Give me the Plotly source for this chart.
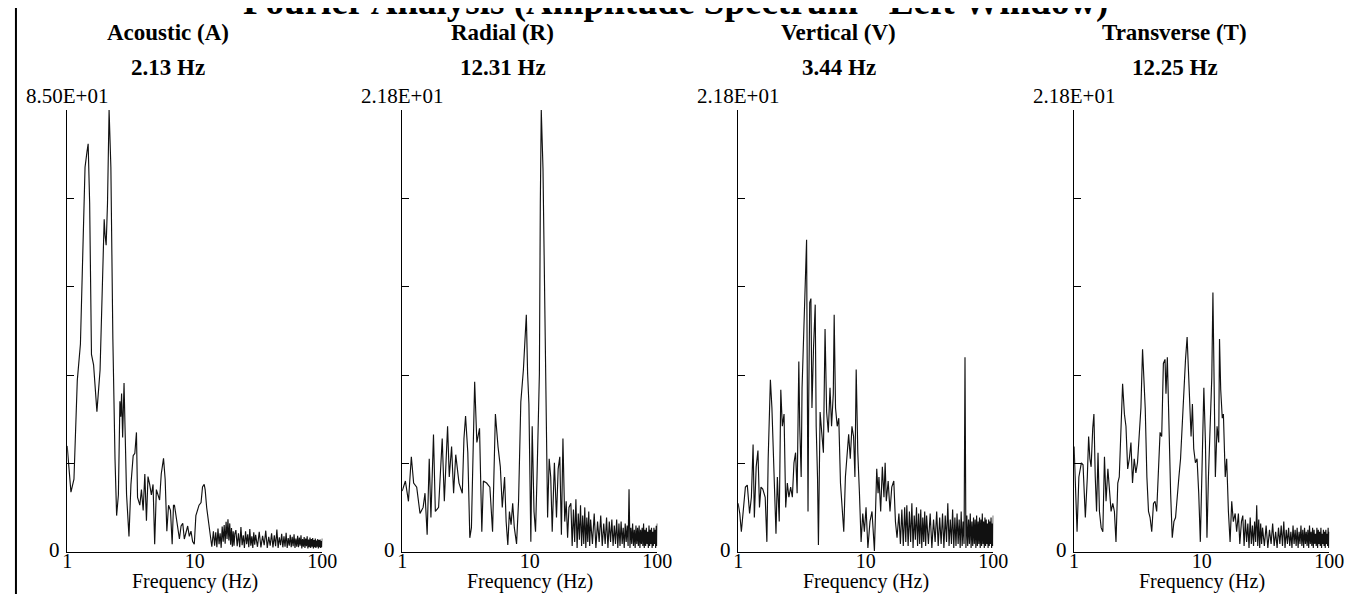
import plotly.graph_objects as go

# ---------------- data ----------------
main_title = "Fourier Analysis (Amplitude Spectrum - Left Window)"
panel_titles = ["Acoustic (A)", "Radial (R)", "Vertical (V)", "Transverse (T)"]
peak_labels = ["2.13 Hz", "12.31 Hz", "3.44 Hz", "12.25 Hz"]
y_max = [85.0, 21.8, 21.8, 21.8]
y_max_labels = ["8.50E+01", "2.18E+01", "2.18E+01", "2.18E+01"]
x_tickvals = [1, 10, 100]
x_ticktext = ["1", "10", "100"]
x_title = "Frequency (Hz)"

# shared high-frequency bins (Hz)
f_hi = [21, 21.5, 22, 22.5, 23, 23.5, 24, 24.5, 25, 25.5, 26, 26.5, 27, 27.5, 28, 28.5, 29, 29.5, 30,
        31, 32, 33, 34, 35, 36, 37, 38, 39, 40,
        41, 42, 43, 44, 45, 46, 47, 48, 49, 50,
        51, 52, 53, 54, 55, 56, 57, 58, 59, 60,
        61, 62, 63, 64, 65, 66, 67, 68, 69, 70,
        71, 72, 73, 74, 75, 76, 77, 78, 79, 80,
        81, 82, 83, 84, 85, 86, 87, 88, 89, 90,
        91, 92, 93, 94, 95, 96, 97, 98, 99, 100]

# Acoustic
a_f_lo = [1.00, 1.07, 1.13, 1.20, 1.27, 1.35, 1.38, 1.43, 1.46, 1.50, 1.55, 1.61, 1.71, 1.81, 1.89, 1.95,
          1.98, 2.02, 2.07, 2.13, 2.20, 2.28, 2.37, 2.44, 2.52, 2.59, 2.63, 2.67, 2.72, 2.79, 2.84, 2.92,
          3.05, 3.16, 3.29, 3.39, 3.49, 3.56, 3.71, 3.82, 3.94, 4.06, 4.18, 4.30, 4.43, 4.57, 4.71, 4.85,
          5.00, 5.30, 5.46, 5.69, 5.86, 6.04, 6.23, 6.45, 6.65, 6.81, 6.93, 7.14, 7.36, 7.58, 7.81, 8.05,
          8.28, 8.54, 8.80, 9.06, 9.34, 9.62, 9.91, 10.2, 10.5, 10.8, 11.2, 11.5, 11.85, 12.06, 12.4, 12.8,
          13.1, 13.6, 14.0, 14.3, 14.6, 14.9, 15.2, 15.5, 15.8, 16.1, 16.4, 16.7, 17.0, 17.3, 17.6, 17.9,
          18.2, 18.5, 18.8, 19.1, 19.4, 19.7, 20.0, 20.3, 20.6]
a_amp_lo = [20.4, 11.5, 14.0, 33.0, 40.0, 67.0, 74.0, 77.0, 78.5, 67.0, 38.0, 36.0, 27.0, 35.0, 52.0, 64.0,
            61.0, 59.0, 67.0, 85.0, 74.0, 41.0, 18.0, 7.0, 11.0, 29.0, 26.0, 30.5, 22.0, 32.5, 24.0, 11.0,
            3.0, 13.0, 18.5, 19.0, 23.0, 10.5, 9.0, 12.0, 8.0, 15.0, 6.0, 14.5, 13.0, 11.0, 13.0, 1.5,
            12.0, 10.0, 15.0, 18.0, 14.0, 4.0, 9.0, 8.0, 1.5, 9.0, 9.0, 7.0, 5.0, 2.5, 5.0, 5.5,
            2.5, 4.0, 5.0, 3.0, 4.0, 2.0, 1.5, 7.0, 8.0, 9.0, 9.5, 12.5, 13.0, 12.0, 8.5, 5.5,
            3.5, 1.0, 4.0, 1.2, 3.8, 0.9, 4.5, 1.5, 3.6, 0.8, 4.9, 2.0, 5.2, 1.6, 5.8, 2.5,
            6.3, 2.2, 5.5, 1.4, 4.6, 1.0, 4.0, 1.2, 3.5]
a_amp_hi = [4.2, 1.1, 3.6, 0.9, 4.8, 1.3, 3.2, 0.8, 4.0, 1.5, 3.4, 0.9, 4.4, 1.2, 3.0, 0.8, 3.8, 1.4, 3.3,
            1.0, 3.9, 0.9, 3.1, 1.3, 4.1, 0.8, 2.9, 1.2, 3.6,
            0.9, 3.2, 1.1, 4.3, 0.8, 2.8, 1.3, 3.5, 0.9, 3.0,
            1.0, 3.7, 0.8, 2.7, 1.2, 3.3, 0.9, 2.9, 1.1, 3.4,
            0.8, 2.6, 1.0, 3.1, 0.9, 2.8, 1.2, 3.2, 0.7, 2.5,
            1.0, 2.9, 0.8, 2.6, 1.1, 3.0, 0.7, 2.4, 0.9, 2.8,
            0.8, 2.5, 1.0, 2.7, 0.7, 2.3, 0.9, 2.6, 0.8, 2.2,
            1.0, 2.5, 0.7, 2.3, 0.9, 2.4, 0.8, 2.1, 0.9, 2.6]

# Radial
r_f_lo = [1.00, 1.06, 1.12, 1.18, 1.23, 1.30, 1.38, 1.46, 1.51, 1.57, 1.63, 1.68, 1.76, 1.82, 1.93, 2.06,
          2.14, 2.27, 2.34, 2.44, 2.53, 2.63, 2.79, 2.96, 3.05, 3.14, 3.27, 3.39, 3.49, 3.59, 3.70, 3.85,
          4.04, 4.21, 4.33, 4.59, 4.87, 5.11, 5.38, 5.64, 5.88, 6.09, 6.35, 6.53, 6.73, 6.93, 7.14, 7.35,
          7.57, 7.88, 8.17, 8.51, 8.92, 9.18, 9.40, 9.62, 9.85, 10.2, 10.45, 10.8, 11.1, 11.4, 11.9, 12.1,
          12.31, 12.7, 13.0, 13.4, 13.8, 14.2, 14.6, 15.0, 15.6, 16.2, 16.7, 17.2, 17.7, 18.2, 18.8, 19.3,
          19.8, 20.3]
r_amp_lo = [3.0, 3.5, 2.5, 4.7, 3.4, 3.2, 1.9, 2.2, 2.9, 0.85, 4.6, 1.7, 5.8, 2.0, 2.2, 5.6,
            2.5, 6.2, 3.7, 5.2, 2.9, 4.8, 3.4, 2.9, 5.6, 6.7, 4.9, 0.7, 1.2, 4.2, 8.4, 5.4,
            6.1, 1.0, 3.5, 3.4, 3.2, 1.0, 6.8, 5.2, 4.2, 2.2, 3.7, 1.5, 0.35, 2.0, 1.35, 2.4,
            1.2, 0.4, 2.5, 7.4, 9.0, 10.5, 11.7, 8.8, 7.3, 0.5, 6.2, 2.0, 1.0, 3.7, 8.8, 17.2,
            21.8, 18.9, 13.9, 7.1, 1.7, 4.6, 3.7, 1.0, 4.4, 1.7, 4.1, 4.7, 0.85, 5.6, 1.5, 2.5,
            0.7, 2.2]
r_amp_hi = [2.4, 0.3, 2.1, 0.5, 2.6, 0.2, 1.9, 0.6, 2.3, 0.3, 1.8, 0.4, 2.2, 0.2, 1.7, 0.5, 2.0, 0.3, 1.6,
            0.4, 1.9, 0.2, 1.5, 0.5, 1.8, 0.3, 1.4, 0.4, 1.7,
            0.2, 1.5, 0.5, 1.6, 0.3, 1.3, 0.4, 1.6, 0.2, 1.4,
            0.3, 1.5, 0.4, 1.2, 0.2, 1.4, 0.5, 1.3, 0.3, 3.1,
            0.2, 1.2, 0.4, 1.4, 0.3, 1.1, 0.2, 1.3, 0.4, 1.2,
            0.3, 1.3, 0.2, 1.1, 0.4, 1.2, 0.3, 1.4, 0.2, 1.1,
            0.3, 1.2, 0.4, 1.0, 0.2, 1.3, 0.3, 1.1, 0.4, 1.2,
            0.2, 1.0, 0.3, 1.2, 0.4, 1.1, 0.2, 1.3, 0.3, 1.4]

# Vertical
v_f_lo = [1.00, 1.03, 1.06, 1.09, 1.14, 1.18, 1.23, 1.27, 1.31, 1.34, 1.385, 1.43, 1.47, 1.51, 1.56, 1.63,
          1.68, 1.72, 1.79, 1.84, 1.92, 1.98, 2.03, 2.10, 2.16, 2.22, 2.29, 2.36, 2.43, 2.50, 2.58, 2.66,
          2.74, 2.82, 2.90, 2.99, 3.04, 3.12, 3.17, 3.27, 3.32, 3.44, 3.47, 3.53, 3.57, 3.64, 3.72, 3.79,
          3.90, 4.02, 4.09, 4.19, 4.26, 4.39, 4.52, 4.66, 4.80, 4.94, 5.09, 5.25, 5.40, 5.57, 5.66, 5.80,
          5.98, 6.15, 6.34, 6.53, 6.73, 6.93, 7.14, 7.35, 7.57, 7.80, 8.03, 8.23, 8.42, 8.67, 8.93, 9.20,
          9.48, 9.76, 10.06, 10.4, 10.8, 11.2, 11.7, 12.2, 12.5, 12.7, 13.1, 13.5, 13.9, 14.2, 14.5, 15.0,
          15.5, 16.0, 16.6, 17.1, 17.6, 18.2, 18.7, 19.2, 19.7, 20.2, 20.6]
v_amp_lo = [2.4, 1.9, 1.0, 2.0, 3.2, 3.3, 1.9, 2.7, 5.3, 1.7, 4.2, 5.0, 2.2, 3.2, 3.1, 2.7,
            0.5, 4.6, 8.5, 7.1, 3.7, 0.9, 3.7, 1.5, 8.0, 6.2, 6.8, 2.2, 3.4, 2.7, 3.2, 2.7,
            4.4, 4.9, 2.9, 9.4, 6.2, 3.7, 8.1, 11.3, 13.0, 15.4, 10.5, 2.0, 7.1, 12.3, 12.5, 7.1,
            10.1, 12.2, 6.2, 3.7, 0.35, 6.9, 5.9, 4.9, 11.0, 6.9, 5.9, 8.1, 6.2, 7.8, 11.7, 7.1,
            6.2, 6.6, 3.4, 1.9, 1.0, 3.7, 4.7, 5.8, 4.6, 6.2, 5.7, 3.7, 9.0, 4.9, 2.9, 0.5,
            1.9, 1.0, 2.2, 0.2, 1.5, 2.0, 0.05, 4.1, 2.9, 3.7, 2.0, 4.2, 2.7, 4.4, 2.5, 3.5,
            2.0, 3.2, 3.5, 1.5, 0.7, 1.9, 0.4, 2.1, 0.3, 2.2, 0.5]
v_amp_hi = [2.3, 0.3, 2.0, 0.5, 2.4, 0.2, 1.8, 0.6, 2.2, 0.3, 1.9, 0.4, 2.1, 0.2, 1.7, 0.5, 2.0, 0.3, 1.8,
            0.4, 1.9, 0.2, 1.6, 0.5, 2.0, 0.3, 1.7, 0.4, 1.9,
            0.2, 1.8, 0.5, 2.4, 0.3, 1.6, 0.4, 2.1, 0.2, 1.7,
            0.3, 1.9, 0.4, 1.6, 0.2, 2.0, 0.3, 1.5, 0.4, 9.6,
            0.2, 1.8, 0.3, 1.6, 0.4, 1.9, 0.2, 1.5, 0.3, 1.7,
            0.4, 1.6, 0.2, 1.8, 0.3, 1.5, 0.4, 1.7, 0.2, 1.6,
            0.3, 1.9, 0.4, 1.5, 0.2, 1.7, 0.3, 1.6, 0.4, 1.4,
            0.2, 1.6, 0.3, 1.5, 0.4, 1.7, 0.2, 1.4, 0.3, 1.8]

# Transverse
t_f_lo = [1.00, 1.03, 1.055, 1.09, 1.14, 1.175, 1.225, 1.27, 1.30, 1.33, 1.36, 1.40, 1.43, 1.465, 1.50, 1.54,
          1.58, 1.63, 1.68, 1.73, 1.78, 1.84, 1.89, 1.95, 2.01, 2.07, 2.13, 2.20, 2.26, 2.33, 2.40, 2.48,
          2.55, 2.63, 2.71, 2.79, 2.87, 2.96, 3.05, 3.14, 3.24, 3.34, 3.44, 3.50, 3.61, 3.72, 3.83, 3.94,
          4.06, 4.19, 4.31, 4.44, 4.58, 4.72, 4.86, 5.01, 5.16, 5.25, 5.38, 5.54, 5.71, 5.88, 6.06, 6.24,
          6.43, 6.63, 6.83, 7.03, 7.25, 7.47, 7.69, 7.83, 8.02, 8.26, 8.46, 8.66, 8.93, 9.20, 9.48, 9.76,
          10.06, 10.4, 10.7, 11.0, 11.3, 11.7, 12.0, 12.25, 12.5, 12.8, 13.2, 13.6, 13.8, 14.1, 14.5, 14.8,
          15.3, 15.7, 16.2, 16.7, 17.2, 17.7, 18.3, 18.8, 19.4, 19.9, 20.5]
t_amp_lo = [5.2, 2.9, 1.0, 3.7, 4.4, 4.3, 1.7, 3.7, 5.7, 4.6, 4.2, 6.1, 6.8, 3.7, 2.0, 4.9,
            2.0, 1.2, 1.0, 4.7, 2.5, 4.1, 2.9, 2.0, 2.4, 2.0, 0.5, 3.4, 3.7, 5.9, 8.3, 6.8,
            6.2, 4.1, 4.6, 5.4, 3.4, 4.6, 3.9, 4.4, 6.1, 7.1, 10.0, 9.1, 7.1, 3.7, 2.0, 1.7,
            1.0, 2.4, 2.5, 2.0, 3.7, 5.9, 5.7, 9.3, 9.5, 7.8, 9.6, 5.4, 2.9, 0.7, 1.5, 1.7,
            2.9, 3.7, 4.6, 6.4, 8.4, 9.5, 10.6, 9.3, 7.1, 5.7, 7.3, 5.1, 4.4, 4.6, 2.9, 0.5,
            4.1, 8.1, 5.4, 0.7, 3.7, 6.2, 8.6, 12.8, 7.1, 3.7, 6.2, 5.4, 10.5, 8.0, 6.6, 6.8,
            3.7, 4.6, 2.0, 0.5, 2.5, 1.5, 1.9, 1.0, 1.9, 0.4, 1.5]
t_amp_hi = [1.8, 0.3, 1.6, 0.5, 1.4, 0.2, 1.7, 0.4, 1.3, 0.3, 1.5, 0.5, 2.3, 0.3, 1.6, 0.2, 1.4, 0.4, 1.2,
            0.3, 1.3, 0.2, 1.1, 0.4, 1.4, 0.3, 1.0, 0.2, 1.2,
            0.4, 1.3, 0.3, 1.5, 0.2, 1.1, 0.4, 1.2, 0.3, 1.0,
            0.2, 1.3, 0.4, 1.1, 0.3, 1.2, 0.2, 1.0, 0.4, 1.3,
            0.3, 1.1, 0.2, 1.2, 0.4, 1.0, 0.3, 1.1, 0.2, 1.3,
            0.4, 1.0, 0.3, 1.2, 0.2, 1.1, 0.4, 0.9, 0.3, 1.2,
            0.2, 1.1, 0.4, 1.0, 0.3, 1.2, 0.2, 0.9, 0.4, 1.1,
            0.3, 1.0, 0.2, 1.1, 0.4, 0.9, 0.3, 1.2, 0.2, 1.0]

series_f = [a_f_lo + f_hi, r_f_lo + f_hi, v_f_lo + f_hi, t_f_lo + f_hi]
series_a = [a_amp_lo + a_amp_hi, r_amp_lo + r_amp_hi, v_amp_lo + v_amp_hi, t_amp_lo + t_amp_hi]

# ---------------- layout (pixels) ----------------
W, H = 1354, 594
panel_left = [55, 395, 736, 1077]
panel_width = 259
plot_top, plot_bottom = 102, 544
FONT = "Liberation Serif, Times New Roman, serif"


def px(x):
    return x / W


def py(y):
    return 1 - y / H


def note(text, x, y, size, xanchor="center", bold=False):
    return dict(text=("<b>%s</b>" % text) if bold else text, x=px(x), y=py(y),
                xref="paper", yref="paper", xanchor=xanchor, yanchor="middle",
                showarrow=False, borderpad=0,
                font=dict(family=FONT, size=size, color="black"))


fig = go.Figure()
annotations = []
for i in range(4):
    ax = "" if i == 0 else str(i + 1)
    fig.add_trace(go.Scatter(
        x=series_f[i], y=series_a[i], mode="lines",
        line=dict(color="#111111", width=1.15),
        xaxis="x" + ax, yaxis="y" + ax, showlegend=False, hoverinfo="skip"))
    x0 = panel_left[i]
    x1 = x0 + panel_width
    fig.update_layout(**{
        "xaxis" + ax: dict(
            domain=[px(x0), px(x1)], type="log", range=[0, 2],
            showline=True, linecolor="black", linewidth=1,
            showgrid=False, zeroline=False, ticks="", ticklen=0,
            tickvals=x_tickvals, ticktext=x_ticktext, ticklabelstandoff=-9,
            tickfont=dict(family=FONT, size=20, color="black"),
            anchor="y" + ax),
        "yaxis" + ax: dict(
            domain=[py(plot_bottom), py(plot_top)], range=[0, y_max[i]],
            showline=True, linecolor="black", linewidth=1,
            showgrid=False, zeroline=False, ticks="inside", ticklen=7,
            tickcolor="black", tickwidth=1,
            tickvals=[y_max[i] * k / 5 for k in range(6)],
            showticklabels=False, anchor="x" + ax),
    })
    tx = x0 + 102
    annotations.append(note(panel_titles[i], tx, 24, 23, bold=True))
    annotations.append(note(peak_labels[i], tx, 59, 23, bold=True))
    annotations.append(note(y_max_labels[i], x0, 88, 21))
    annotations.append(note("0", x0 - 6, plot_bottom - 2, 21, xanchor="right"))
    annotations.append(note(x_title, x0 + panel_width / 2, 573, 20))

annotations.append(note(main_title, 672, -6, 37, bold=True))

fig.update_layout(
    width=W, height=H, margin=dict(l=0, r=0, t=0, b=0),
    paper_bgcolor="white", plot_bgcolor="white",
    annotations=annotations,
    shapes=[dict(type="line", xref="paper", yref="paper", x0=px(3), x1=px(3), y0=0, y1=1,
                 line=dict(color="black", width=2))],
)

fig.write_html("out.html")
